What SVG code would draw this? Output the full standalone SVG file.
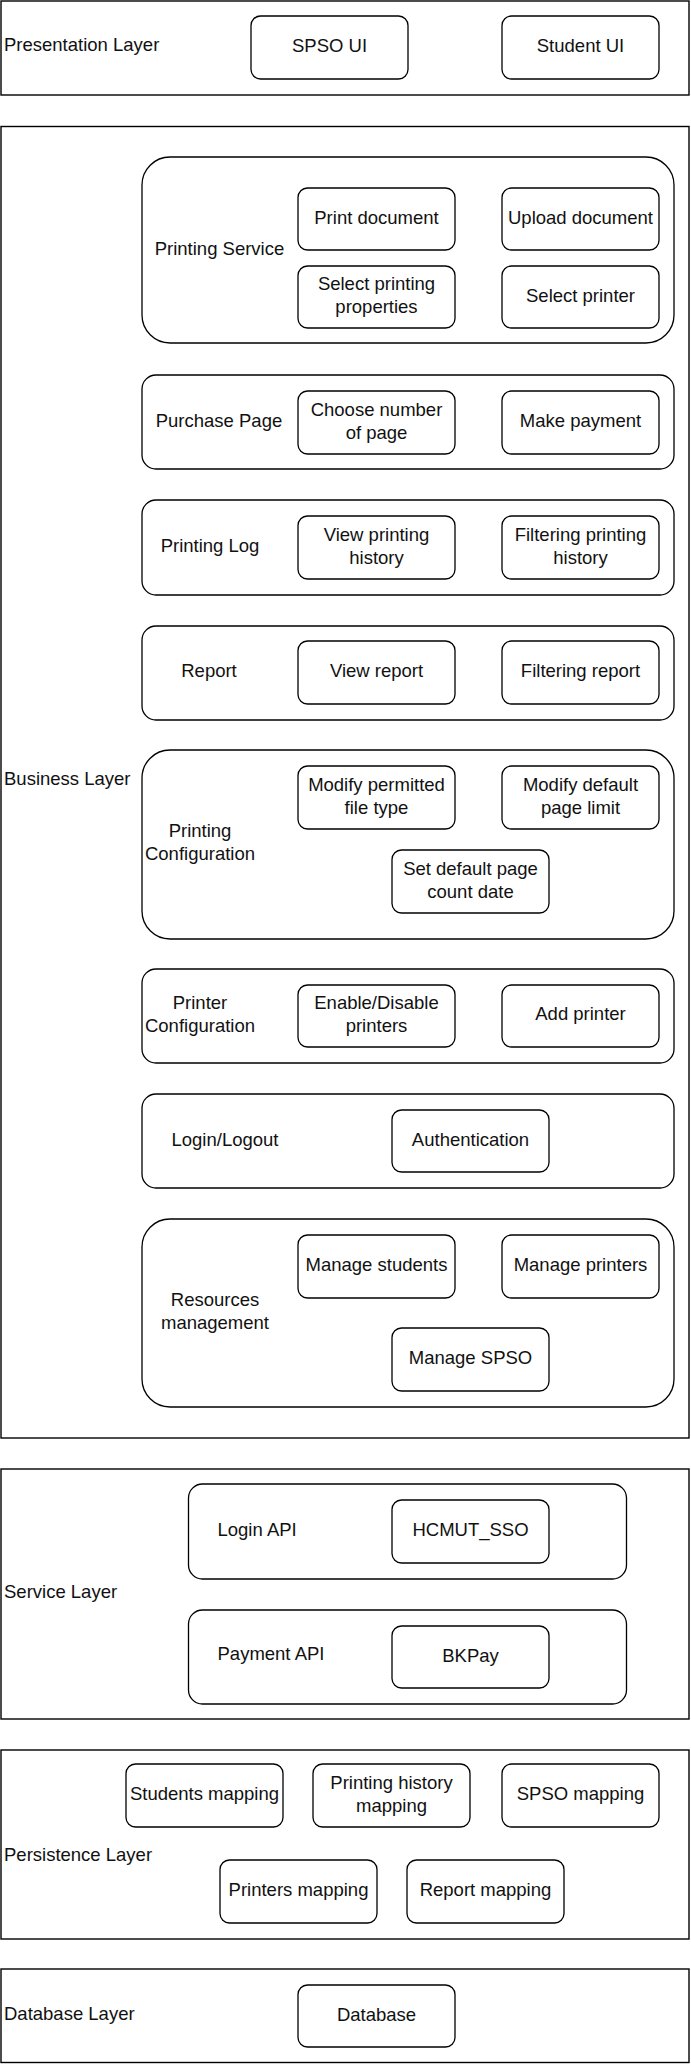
<svg xmlns="http://www.w3.org/2000/svg" width="691" height="2064" viewBox="0 0 691 2064">
<style>
.layer{fill:#fff;stroke:#000;stroke-width:1.4}
.grp{fill:#fff;stroke:#000;stroke-width:1.3}
.box{fill:#fff;stroke:#000;stroke-width:1.3}
text{font-family:"Liberation Sans",Arial,sans-serif;font-size:18.5px;fill:#111}
.c{text-anchor:middle}
</style>
<rect width="691" height="2064" fill="#fff"/>
<g id="presentation-layer">
<rect class="layer" x="1" y="1" width="688" height="94"/>
<text x="4" y="51">Presentation Layer</text>
</g>
<g id="spso-ui"><rect class="box" x="251" y="16" width="157" height="63" rx="9.5"/><text class="c" x="329.5" y="52">SPSO UI</text></g>
<g id="student-ui"><rect class="box" x="502" y="16" width="157" height="63" rx="9.5"/><text class="c" x="580.5" y="52">Student UI</text></g>

<g id="business-layer">
<rect class="layer" x="1" y="126.5" width="688" height="1311.5"/>
<text x="4" y="785">Business Layer</text>
</g>

<g id="printing-service">
<rect class="grp" x="142" y="157" width="532" height="186" rx="28"/>
<text class="c" x="219.5" y="254.5">Printing Service</text>
</g>
<g id="print-document"><rect class="box" x="298" y="188" width="157" height="62" rx="9.5"/><text class="c" x="376.5" y="223.5">Print document</text></g>
<g id="upload-document"><rect class="box" x="502" y="188" width="157" height="62" rx="9.5"/><text class="c" x="580.5" y="223.5">Upload document</text></g>
<g id="select-printing-properties"><rect class="box" x="298" y="266" width="157" height="62" rx="9.5"/><text class="c" x="376.5" y="290">Select printing</text><text class="c" x="376.5" y="313">properties</text></g>
<g id="select-printer"><rect class="box" x="502" y="266" width="157" height="62" rx="9.5"/><text class="c" x="580.5" y="301.5">Select printer</text></g>

<g id="purchase-page">
<rect class="grp" x="142" y="375" width="532" height="94" rx="14"/>
<text class="c" x="219" y="426.5">Purchase Page</text>
</g>
<g id="choose-number-of-page"><rect class="box" x="298" y="391" width="157" height="63" rx="9.5"/><text class="c" x="376.5" y="415.5">Choose number</text><text class="c" x="376.5" y="438.5">of page</text></g>
<g id="make-payment"><rect class="box" x="502" y="391" width="157" height="63" rx="9.5"/><text class="c" x="580.5" y="427">Make payment</text></g>

<g id="printing-log">
<rect class="grp" x="142" y="500" width="532" height="95" rx="14"/>
<text class="c" x="210" y="551.5">Printing Log</text>
</g>
<g id="view-printing-history"><rect class="box" x="298" y="516" width="157" height="63" rx="9.5"/><text class="c" x="376.5" y="540.5">View printing</text><text class="c" x="376.5" y="563.5">history</text></g>
<g id="filtering-printing-history"><rect class="box" x="502" y="516" width="157" height="63" rx="9.5"/><text class="c" x="580.5" y="540.5">Filtering printing</text><text class="c" x="580.5" y="563.5">history</text></g>

<g id="report">
<rect class="grp" x="142" y="626" width="532" height="94" rx="14"/>
<text class="c" x="209" y="676.5">Report</text>
</g>
<g id="view-report"><rect class="box" x="298" y="641" width="157" height="63" rx="9.5"/><text class="c" x="376.5" y="677">View report</text></g>
<g id="filtering-report"><rect class="box" x="502" y="641" width="157" height="63" rx="9.5"/><text class="c" x="580.5" y="677">Filtering report</text></g>

<g id="printing-configuration">
<rect class="grp" x="142" y="750" width="532" height="189" rx="28"/>
<text class="c" x="200" y="837">Printing</text>
<text class="c" x="200" y="860">Configuration</text>
</g>
<g id="modify-permitted-file-type"><rect class="box" x="298" y="766" width="157" height="63" rx="9.5"/><text class="c" x="376.5" y="790.5">Modify permitted</text><text class="c" x="376.5" y="813.5">file type</text></g>
<g id="modify-default-page-limit"><rect class="box" x="502" y="766" width="157" height="63" rx="9.5"/><text class="c" x="580.5" y="790.5">Modify default</text><text class="c" x="580.5" y="813.5">page limit</text></g>
<g id="set-default-page-count-date"><rect class="box" x="392" y="850" width="157" height="63" rx="9.5"/><text class="c" x="470.5" y="874.5">Set default page</text><text class="c" x="470.5" y="897.5">count date</text></g>

<g id="printer-configuration">
<rect class="grp" x="142" y="969" width="532" height="94" rx="14"/>
<text class="c" x="200" y="1008.5">Printer</text>
<text class="c" x="200" y="1031.5">Configuration</text>
</g>
<g id="enable-disable-printers"><rect class="box" x="298" y="985" width="157" height="62" rx="9.5"/><text class="c" x="376.5" y="1008.5">Enable/Disable</text><text class="c" x="376.5" y="1031.5">printers</text></g>
<g id="add-printer"><rect class="box" x="502" y="985" width="157" height="62" rx="9.5"/><text class="c" x="580.5" y="1020">Add printer</text></g>

<g id="login-logout">
<rect class="grp" x="142" y="1094" width="532" height="94" rx="14"/>
<text class="c" x="225" y="1145.5">Login/Logout</text>
</g>
<g id="authentication"><rect class="box" x="392" y="1110" width="157" height="62" rx="9.5"/><text class="c" x="470.5" y="1145.5">Authentication</text></g>

<g id="resources-management">
<rect class="grp" x="142" y="1219" width="532" height="188" rx="28"/>
<text class="c" x="215" y="1306">Resources</text>
<text class="c" x="215" y="1329">management</text>
</g>
<g id="manage-students"><rect class="box" x="298" y="1235" width="157" height="63" rx="9.5"/><text class="c" x="376.5" y="1271">Manage students</text></g>
<g id="manage-printers"><rect class="box" x="502" y="1235" width="157" height="63" rx="9.5"/><text class="c" x="580.5" y="1271">Manage printers</text></g>
<g id="manage-spso"><rect class="box" x="392" y="1328" width="157" height="63" rx="9.5"/><text class="c" x="470.5" y="1364">Manage SPSO</text></g>

<g id="service-layer">
<rect class="layer" x="1" y="1469" width="688" height="250"/>
<text x="4" y="1597.5">Service Layer</text>
</g>
<g id="login-api">
<rect class="grp" x="188.5" y="1484" width="438" height="95" rx="14"/>
<text x="217.5" y="1535.5">Login API</text>
</g>
<g id="hcmut-sso"><rect class="box" x="392" y="1500" width="157" height="63" rx="9.5"/><text class="c" x="470.5" y="1536">HCMUT_SSO</text></g>
<g id="payment-api">
<rect class="grp" x="188.5" y="1610" width="438" height="94" rx="14"/>
<text x="217.5" y="1659.5">Payment API</text>
</g>
<g id="bkpay"><rect class="box" x="392" y="1626" width="157" height="62" rx="9.5"/><text class="c" x="470.5" y="1661.5">BKPay</text></g>

<g id="persistence-layer">
<rect class="layer" x="1" y="1750" width="688" height="189"/>
<text x="4" y="1860.5">Persistence Layer</text>
</g>
<g id="students-mapping"><rect class="box" x="126" y="1764" width="157" height="63" rx="9.5"/><text class="c" x="204.5" y="1800">Students mapping</text></g>
<g id="printing-history-mapping"><rect class="box" x="313" y="1764" width="157" height="63" rx="9.5"/><text class="c" x="391.5" y="1788.5">Printing history</text><text class="c" x="391.5" y="1811.5">mapping</text></g>
<g id="spso-mapping"><rect class="box" x="502" y="1764" width="157" height="63" rx="9.5"/><text class="c" x="580.5" y="1800">SPSO mapping</text></g>
<g id="printers-mapping"><rect class="box" x="220" y="1860" width="157" height="63" rx="9.5"/><text class="c" x="298.5" y="1896">Printers mapping</text></g>
<g id="report-mapping"><rect class="box" x="407" y="1860" width="157" height="63" rx="9.5"/><text class="c" x="485.5" y="1896">Report mapping</text></g>

<g id="database-layer">
<rect class="layer" x="1" y="1969" width="688" height="93.5"/>
<text x="4" y="2019.5">Database Layer</text>
</g>
<g id="database"><rect class="box" x="298" y="1985" width="157" height="62" rx="9.5"/><text class="c" x="376.5" y="2020.5">Database</text></g>

<g id="connectors"></g>
</svg>
